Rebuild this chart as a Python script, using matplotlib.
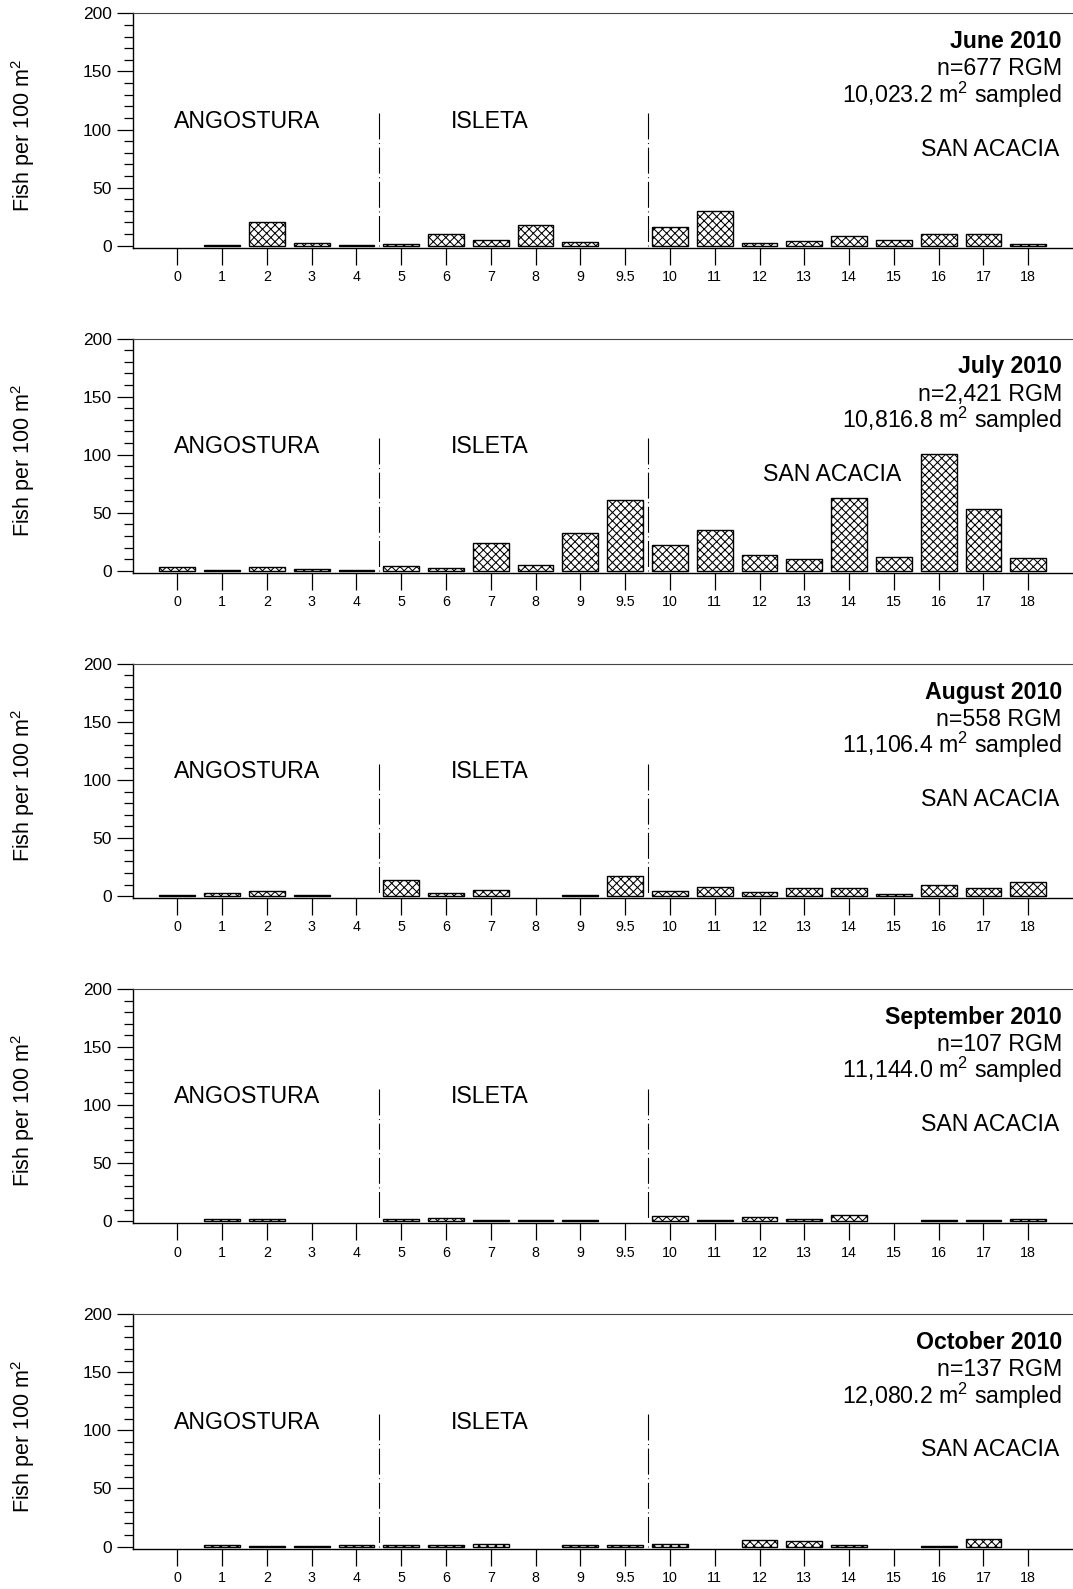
import matplotlib
matplotlib.use("Agg")
import matplotlib.pyplot as plt

plt.rcParams['font.family'] = ['Liberation Sans', 'DejaVu Sans']
plt.rcParams['mathtext.fontset'] = 'custom'
plt.rcParams['mathtext.rm'] = 'Liberation Sans'
plt.rcParams['mathtext.it'] = 'Liberation Sans:italic'
plt.rcParams['mathtext.bf'] = 'Liberation Sans:bold'
plt.rcParams['hatch.linewidth'] = 0.75
plt.rcParams['lines.scale_dashes'] = False

# river miles sampled (9.5 is an extra site between 9 and 10)
sites = ['0', '1', '2', '3', '4', '5', '6', '7', '8', '9', '9.5',
         '10', '11', '12', '13', '14', '15', '16', '17', '18']

months = ['June 2010', 'July 2010', 'August 2010', 'September 2010', 'October 2010']
n_fish = ['n=677 RGM', 'n=2,421 RGM', 'n=558 RGM', 'n=107 RGM', 'n=137 RGM']
area = ['10,023.2', '10,816.8', '11,106.4', '11,144.0', '12,080.2']

# density, fish per 100 m2
june = [0, 1, 20, 2.5, 1, 1.5, 10, 5, 18, 3, 0,
        16, 30, 2.5, 4, 8.5, 5, 10, 10, 1.5]
july = [3, 1, 3, 1.5, 1, 4, 2.5, 24, 5, 33, 61,
        22, 35, 13.5, 10.5, 62.5, 12, 101, 53.5, 11]
august = [1, 3, 4, 1, 0, 13.5, 2.4, 5.3, 0, 1, 17.5,
          4, 8, 3.4, 7.3, 7, 1.5, 9.7, 7, 12.5]
september = [0, 2, 2, 0, 0, 2, 3, 1.5, 1, 1.5, 0,
             5, 1.5, 4, 2, 5.5, 0, 1, 1.5, 2]
october = [0, 1.5, 0.6, 0.6, 1.5, 1.5, 1.5, 2.4, 0, 1.2, 1.5,
           2.6, 0, 5.4, 5, 1.7, 0, 0.8, 6.8, 0]
series = [june, july, august, september, october]

W, H = 1073, 1589
fig = plt.figure(figsize=(W / 100, H / 100), dpi=100)

left_px = 132.5
ax_h = 234.4
x = list(range(len(sites)))

for k in range(5):
    top = 13.3 + k * 325.2
    ax = fig.add_axes([left_px / W, 1 - (top + ax_h) / H, 1 - left_px / W, ax_h / H])
    vals = series[k]
    # no outline where nothing was caught
    lws = [1.0 if v > 0 else 0 for v in vals]
    ax.bar(x, vals, width=0.8, color='white', edgecolor='black',
           linewidth=lws, hatch='xxxx')
    ax.set_xlim(-1.0, 20.0)
    ax.set_ylim(-1.7, 200)

    # reach boundaries
    for xd in (4.5, 10.5):
        ax.plot([xd, xd], [114, 0], color='black', lw=0.8,
                linestyle=(0, (18.7, 2.6, 0.7, 2.6)))

    ax.spines['right'].set_visible(False)
    ax.spines['top'].set_color('#444444')
    ax.spines['left'].set_linewidth(1.0)
    ax.spines['bottom'].set_linewidth(1.0)

    ax.set_xticks(x)
    ax.set_xticklabels(sites, fontsize=10.3)
    ax.tick_params(axis='x', direction='out', length=12, width=0.9, pad=4)
    ax.set_yticks([0, 50, 100, 150, 200])
    ax.set_yticks(range(0, 201, 10), minor=True)
    ax.tick_params(axis='y', which='major', direction='out', length=11.7,
                   width=0.9, labelsize=12.5, pad=3)
    ax.tick_params(axis='y', which='minor', direction='out', length=6.2, width=0.9)

    ax.text(-0.1164, 0.48, 'Fish per 100 m$^2$', transform=ax.transAxes,
            rotation=90, ha='center', va='center', fontsize=15.5)

    ax.text(19.75, 170, months[k], ha='right', va='baseline',
            fontsize=16.7, fontweight='bold')
    ax.text(19.75, 146.5, n_fish[k], ha='right', va='baseline', fontsize=16.7)
    ax.text(19.75, 123, area[k] + ' m$^2$ sampled', ha='right',
            va='baseline', fontsize=16.7)

    ax.text(-0.065, 101.5, 'ANGOSTURA', ha='left', va='baseline', fontsize=16.7)
    ax.text(6.1, 101.5, 'ISLETA', ha='left', va='baseline', fontsize=16.7)
    if k == 1:
        ax.text(13.07, 77.5, 'SAN ACACIA', ha='left', va='baseline', fontsize=16.7)
    else:
        ax.text(19.69, 77.5, 'SAN ACACIA', ha='right', va='baseline', fontsize=16.7)

fig.savefig('out.png', dpi=100)
